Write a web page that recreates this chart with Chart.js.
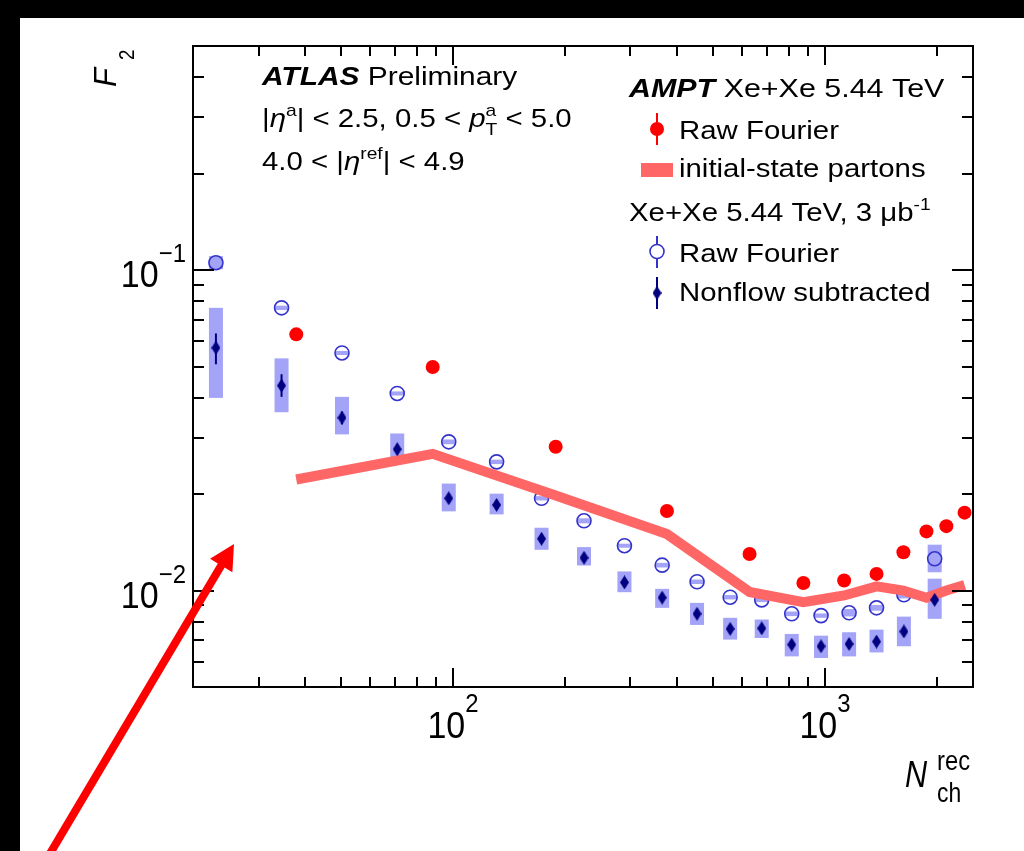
<!DOCTYPE html>
<html>
<head>
<meta charset="utf-8">
<script src="https://cdn.jsdelivr.net/npm/chart.js@4/dist/chart.umd.min.js"></script>
<style>
  html, body { margin: 0; padding: 0; background: #000; }
  canvas { display: block; }
</style>
</head>
<body>
<canvas id="f2Chart" width="1024" height="851"></canvas>
<script>
// AMPT Xe+Xe (red points + initial-state partons line)
const amptN = [37.9, 88.2, 188.8, 376, 627, 875, 1126, 1376, 1625, 1874, 2120, 2373];
const amptRaw = [0.0630, 0.0498, 0.0281, 0.0177, 0.0130, 0.01055, 0.01075, 0.01127, 0.01317, 0.01529, 0.01588, 0.0175];
const amptErr = [0.0008, 0.0006, 0.0003, 0.0002, 0.00015, 0.00012, 0.00012, 0.00013, 0.00015, 0.0002, 0.0003, 0.0006];
const partonF2 = [0.0222, 0.0267, 0.0198, 0.0150, 0.0099, 0.0092, 0.00965, 0.0103, 0.0100, 0.0095, 0.0100, 0.0104];

// ATLAS data
const dataN = [23.05, 34.6, 50.3, 70.8, 97.4, 131, 173, 225, 289, 365, 453, 556, 676, 814, 976, 1161, 1376, 1630, 1972];
const rawF2 = [0.1054, 0.0762, 0.0551, 0.0412, 0.0291, 0.0252, 0.0194, 0.0165, 0.0138, 0.0120, 0.01065, 0.00953, 0.00935, 0.00846, 0.00835, 0.00852, 0.00883, 0.0097, 0.01256];
const rawSystLo = [0.1005, 0.0750, 0.0543, 0.0406, 0.0286, 0.0248, 0.0191, 0.0162, 0.0136, 0.0118, 0.01048, 0.00938, 0.00920, 0.00832, 0.00822, 0.00830, 0.00865, 0.00945, 0.0114];
const rawSystHi = [0.1105, 0.0774, 0.0559, 0.0418, 0.0296, 0.0256, 0.0197, 0.0168, 0.0140, 0.0122, 0.01082, 0.00968, 0.00950, 0.00860, 0.00848, 0.00875, 0.00901, 0.00995, 0.0139];
const nonflowF2 = [0.0572, 0.0436, 0.0346, 0.0276, 0.0194, 0.0185, 0.0145, 0.01265, 0.0106, 0.0095, 0.00846, 0.00759, 0.00762, 0.00678, 0.0067, 0.00681, 0.00693, 0.00745, 0.00935];
const nonflowStatLo = [0.0508, 0.0402, 0.0330, 0.0266, 0.0189, 0.0180, 0.0141, 0.0123, 0.01035, 0.00928, 0.00826, 0.00741, 0.00744, 0.00662, 0.00654, 0.00665, 0.00677, 0.00728, 0.00905];
const nonflowStatHi = [0.0634, 0.0473, 0.0362, 0.0286, 0.0199, 0.0190, 0.0149, 0.0130, 0.01085, 0.00972, 0.00866, 0.00777, 0.0078, 0.00694, 0.00686, 0.00697, 0.00709, 0.00762, 0.00965];
const nonflowSystLo = [0.0399, 0.0360, 0.0307, 0.0259, 0.01766, 0.01728, 0.0134, 0.01197, 0.00988, 0.00883, 0.00781, 0.00703, 0.00711, 0.00623, 0.00616, 0.00623, 0.00641, 0.0067, 0.00816];
const nonflowSystHi = [0.0762, 0.0530, 0.0402, 0.0309, 0.02156, 0.02005, 0.0157, 0.01366, 0.01147, 0.01012, 0.00915, 0.00822, 0.00812, 0.00732, 0.00723, 0.00741, 0.00755, 0.00829, 0.01089];

// axes
const xTicks = [30, 40, 50, 60, 70, 80, 90, 100, 200, 300, 400, 500, 600, 700, 800, 900, 1000, 2000];
const yTicks = [0.006, 0.007, 0.008, 0.009, 0.01, 0.02, 0.03, 0.04, 0.05, 0.06, 0.07, 0.08, 0.09, 0.1, 0.2, 0.3, 0.4];
const xMajor = [100, 1000];
const xMajorLabels = ['2', '3'];
const yMajor = [0.01, 0.1];
const yMajorLabels = ['\u22122', '\u22121'];

const SANS = '"Liberation Sans", Arial, Helvetica, sans-serif';
const RED = '#ff0000';
const SALMON = '#ff6666';
const BLUE = '#3333cc';
const NAVY = '#000080';
const BOX = '#a3a3f7';

// tall diamond marker
function diamond(w, h, color) {
  const c = document.createElement('canvas');
  c.width = w; c.height = h;
  const g = c.getContext('2d');
  g.fillStyle = color;
  g.beginPath();
  g.moveTo(w / 2, 0); g.lineTo(w, h / 2); g.lineTo(w / 2, h); g.lineTo(0, h / 2);
  g.closePath(); g.fill();
  return c;
}
const diamondImg = diamond(9, 14, NAVY);

// text made of runs: {t, f, dy, hold}
function runs(ctx, x, y, parts, sx, align) {
  ctx.save();
  let total = 0, held = 0;
  for (const p of parts) {
    ctx.font = p.f;
    const w = ctx.measureText(p.t).width;
    if (p.hold) { held = w; } else { total += Math.max(w, held); held = 0; }
  }
  let x0 = x;
  if (align === 'center') x0 = x - total * sx / 2;
  if (align === 'right') x0 = x - total * sx;
  ctx.translate(x0, y);
  ctx.scale(sx, 1);
  ctx.textBaseline = 'alphabetic';
  ctx.textAlign = 'left';
  let cx = 0; held = 0;
  for (const p of parts) {
    ctx.font = p.f;
    ctx.fillText(p.t, cx, p.dy || 0);
    const w = ctx.measureText(p.t).width;
    if (p.hold) { held = w; } else { cx += Math.max(w, held); held = 0; }
  }
  ctx.restore();
}

const arrow = { tailX: 45, tailY: 862, tipX: 234, tipY: 544, head: 25, halfW: 13, width: 8 };

const decor = {
  id: 'decor',
  beforeDraw(chart) {
    const ctx = chart.ctx;
    ctx.save();
    ctx.fillStyle = '#000';
    ctx.fillRect(0, 0, chart.width, chart.height);
    ctx.fillStyle = '#fff';
    ctx.fillRect(20, 18, chart.width - 20, chart.height - 18);
    ctx.restore();
  },
  beforeDatasetsDraw(chart) {
    const ctx = chart.ctx, xs = chart.scales.x, ys = chart.scales.y;
    ctx.save();
    ctx.fillStyle = BOX;
    dataN.forEach((n, i) => {
      const px = xs.getPixelForValue(n);
      let t = ys.getPixelForValue(rawSystHi[i]), b = ys.getPixelForValue(rawSystLo[i]);
      ctx.fillRect(px - 7, t, 14, b - t);
      t = ys.getPixelForValue(nonflowSystHi[i]); b = ys.getPixelForValue(nonflowSystLo[i]);
      ctx.fillRect(px - 7, t, 14, b - t);
    });
    ctx.lineWidth = 2;
    ctx.strokeStyle = NAVY;
    dataN.forEach((n, i) => {
      const px = xs.getPixelForValue(n);
      ctx.beginPath();
      ctx.moveTo(px, ys.getPixelForValue(nonflowStatHi[i]));
      ctx.lineTo(px, ys.getPixelForValue(nonflowStatLo[i]));
      ctx.stroke();
    });
    ctx.strokeStyle = RED;
    amptN.forEach((n, i) => {
      const px = xs.getPixelForValue(n);
      ctx.beginPath();
      ctx.moveTo(px, ys.getPixelForValue(amptRaw[i] + amptErr[i]));
      ctx.lineTo(px, ys.getPixelForValue(amptRaw[i] - amptErr[i]));
      ctx.stroke();
    });
    ctx.restore();
  },
  afterDraw(chart) {
    const ctx = chart.ctx, xs = chart.scales.x, ys = chart.scales.y;
    const a = chart.chartArea;
    ctx.save();
    // frame and inward ticks
    ctx.strokeStyle = '#000';
    ctx.lineWidth = 2;
    ctx.strokeRect(a.left, a.top, a.right - a.left, a.bottom - a.top);
    ctx.beginPath();
    xTicks.forEach((v) => {
      const px = Math.round(xs.getPixelForValue(v));
      const len = xMajor.includes(v) ? 19 : 10;
      ctx.moveTo(px, a.bottom); ctx.lineTo(px, a.bottom - len);
      ctx.moveTo(px, a.top); ctx.lineTo(px, a.top + len);
    });
    yTicks.forEach((v) => {
      const py = Math.round(ys.getPixelForValue(v));
      const len = yMajor.includes(v) ? 21 : 11;
      ctx.moveTo(a.left, py); ctx.lineTo(a.left + len, py);
      ctx.moveTo(a.right, py); ctx.lineTo(a.right - len, py);
    });
    ctx.stroke();

    ctx.fillStyle = '#000';
    // tick labels
    xMajor.forEach((v, i) => {
      runs(ctx, xs.getPixelForValue(v), 738, [
        { t: '10', f: `37px ${SANS}` },
        { t: xMajorLabels[i], f: `26px ${SANS}`, dy: -26 },
      ], 0.92, 'center');
    });
    yMajor.forEach((v, i) => {
      const py = ys.getPixelForValue(v);
      runs(ctx, 186, py + 17, [
        { t: '10', f: `37px ${SANS}` },
        { t: yMajorLabels[i], f: `26px ${SANS}`, dy: -25 },
      ], 0.92, 'right');
    });

    // axis titles
    runs(ctx, 905, 787, [{ t: 'N', f: `italic 36px ${SANS}` }], 0.85);
    runs(ctx, 937, 770, [{ t: 'rec', f: `27px ${SANS}` }], 0.88);
    runs(ctx, 937, 802, [{ t: 'ch', f: `27px ${SANS}` }], 0.85);
    ctx.save();
    ctx.translate(116, 87);
    ctx.rotate(-Math.PI / 2);
    runs(ctx, 0, 0, [{ t: 'F', f: `italic 31px ${SANS}` }], 1);
    runs(ctx, 27, 18, [{ t: '2', f: `22px ${SANS}` }], 0.85);
    ctx.restore();

    // top-left labels
    const L = `26px ${SANS}`, LI = `italic 26px ${SANS}`, S = `17px ${SANS}`;
    const sx = 1.13;
    runs(ctx, 262, 85, [{ t: 'ATLAS', f: `italic bold 26px ${SANS}` }, { t: ' Preliminary', f: L }], 1.15);
    runs(ctx, 262, 127, [
      { t: '|', f: L }, { t: '\u03b7', f: LI }, { t: 'a', f: S, dy: -11 },
      { t: '| < 2.5, 0.5 < ', f: L }, { t: 'p', f: LI },
      { t: 'a', f: S, dy: -11, hold: true }, { t: 'T', f: S, dy: 8 },
      { t: ' < 5.0', f: L },
    ], sx);
    runs(ctx, 262, 170, [
      { t: '4.0 < |', f: L }, { t: '\u03b7', f: LI }, { t: 'ref', f: S, dy: -11 }, { t: '| < 4.9', f: L },
    ], sx);

    // legend
    runs(ctx, 629, 97, [{ t: 'AMPT', f: `italic bold 26px ${SANS}` }, { t: ' Xe+Xe 5.44 TeV', f: L }], 1.17);
    runs(ctx, 679, 139, [{ t: 'Raw Fourier', f: L }], sx);
    runs(ctx, 679, 177, [{ t: 'initial-state partons', f: L }], sx);
    runs(ctx, 629, 221, [{ t: 'Xe+Xe 5.44 TeV, 3 \u03bcb', f: L }, { t: '-1', f: S, dy: -11 }], sx);
    runs(ctx, 679, 262, [{ t: 'Raw Fourier', f: L }], sx);
    runs(ctx, 679, 301, [{ t: 'Nonflow subtracted', f: L }], sx);

    // legend markers
    const mx = 657;
    ctx.lineWidth = 2;
    ctx.strokeStyle = RED; ctx.fillStyle = RED;
    ctx.beginPath(); ctx.moveTo(mx, 113); ctx.lineTo(mx, 145); ctx.stroke();
    ctx.beginPath(); ctx.arc(mx, 129, 7, 0, Math.PI * 2); ctx.fill();
    ctx.fillStyle = SALMON;
    ctx.fillRect(641, 163, 32, 14);
    ctx.strokeStyle = BLUE;
    ctx.beginPath(); ctx.moveTo(mx, 236); ctx.lineTo(mx, 244); ctx.moveTo(mx, 259); ctx.lineTo(mx, 268); ctx.stroke();
    ctx.lineWidth = 1.6;
    ctx.beginPath(); ctx.arc(mx, 251.5, 7, 0, Math.PI * 2); ctx.stroke();
    ctx.lineWidth = 2;
    ctx.strokeStyle = NAVY;
    ctx.beginPath(); ctx.moveTo(mx, 277); ctx.lineTo(mx, 309); ctx.stroke();
    ctx.drawImage(diamondImg, mx - 4.5, 293 - 7);

    // red arrow overlay
    const dx = arrow.tipX - arrow.tailX, dy = arrow.tipY - arrow.tailY;
    const len = Math.hypot(dx, dy), ux = dx / len, uy = dy / len;
    const bx = arrow.tipX - ux * arrow.head, by = arrow.tipY - uy * arrow.head;
    ctx.strokeStyle = RED; ctx.fillStyle = RED;
    ctx.lineWidth = arrow.width;
    ctx.beginPath(); ctx.moveTo(arrow.tailX, arrow.tailY); ctx.lineTo(bx + ux * 2, by + uy * 2); ctx.stroke();
    ctx.beginPath();
    ctx.moveTo(arrow.tipX, arrow.tipY);
    ctx.lineTo(bx - uy * arrow.halfW, by + ux * arrow.halfW);
    ctx.lineTo(bx + uy * arrow.halfW, by - ux * arrow.halfW);
    ctx.closePath(); ctx.fill();
    ctx.restore();
  },
};

const ctx = document.getElementById('f2Chart').getContext('2d');
const chart = new Chart(ctx, {
  type: 'line',
  data: {
    datasets: [
      {
        label: 'Raw Fourier (AMPT)',
        data: amptN.map((n, i) => ({ x: n, y: amptRaw[i] })),
        showLine: false,
        pointStyle: 'circle',
        pointRadius: 7,
        pointBorderWidth: 0,
        pointBackgroundColor: RED,
        borderColor: RED,
        order: 1,
      },
      {
        label: 'initial-state partons',
        data: amptN.map((n, i) => ({ x: n, y: partonF2[i] })),
        borderColor: SALMON,
        borderWidth: 10,
        pointRadius: 0,
        tension: 0,
        fill: false,
        order: 3,
      },
      {
        label: 'Raw Fourier',
        data: dataN.map((n, i) => ({ x: n, y: rawF2[i] })),
        showLine: false,
        pointStyle: 'circle',
        pointRadius: 7,
        pointBorderWidth: 1.6,
        pointBorderColor: BLUE,
        pointBackgroundColor: 'rgba(0,0,0,0)',
        order: 4,
      },
      {
        label: 'Nonflow subtracted',
        data: dataN.map((n, i) => ({ x: n, y: nonflowF2[i] })),
        showLine: false,
        pointStyle: diamondImg,
        pointRadius: 7,
        order: 2,
      },
    ],
  },
  options: {
    responsive: false,
    animation: false,
    devicePixelRatio: 1,
    layout: { padding: { left: 193, right: 51, top: 46, bottom: 164 } },
    plugins: { legend: { display: false }, tooltip: { enabled: false } },
    scales: {
      x: { type: 'logarithmic', min: 20, max: 2500, bounds: 'data', display: false },
      y: { type: 'logarithmic', min: 0.005, max: 0.5, bounds: 'data', display: false },
    },
  },
  plugins: [decor],
});
</script>
</body>
</html>
